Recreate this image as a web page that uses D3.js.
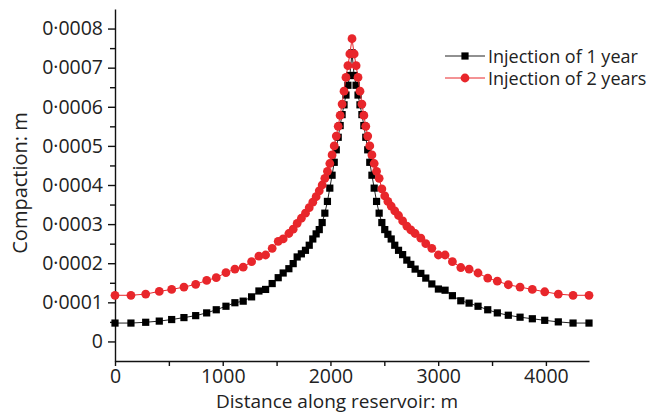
<!DOCTYPE html>
<html><head><meta charset="utf-8">
<script src="https://cdn.jsdelivr.net/npm/d3@7"></script>
<style>
body{margin:0;background:#fff;}
text{font-family:"Open Sans",sans-serif;fill:#222;}
</style></head>
<body><svg id="c" width="664" height="416"></svg>
<script>
const distance = [0,148,285,411,526,640,749,851,940,1030,1113,1190,1268,1336,1398,1459,1515,1561,1614,1654,1691,1730,1768,1803,1836,1867,1896,1923,1948,1972,1994,2015,2035,2054,2072,2090,2108,2126,2144,2162,2180,2200,
 2220,2238,2256,2274,2292,2310,2328,2346,2365,2385,2406,2428,2452,2477,2504,2533,2564,2597,2632,2670,2709,2746,2786,2839,2885,2941,3002,3064,3132,3210,3287,3370,3460,3549,3651,3760,3874,3989,4115,4252,4400];
// compaction values (x 1e-4 m)
const oneYear = [0.47,0.47,0.49,0.52,0.56,0.61,0.66,0.73,0.81,0.90,0.99,1.03,1.14,1.29,1.33,1.48,1.63,1.75,1.86,1.99,2.16,2.24,2.33,2.46,2.62,2.75,2.86,3.04,3.28,3.58,3.92,4.25,4.58,4.90,5.22,5.52,5.80,6.05,6.30,6.55,6.80,7.38,
 6.80,6.55,6.30,6.05,5.80,5.52,5.22,4.90,4.58,4.25,3.92,3.58,3.28,3.04,2.86,2.74,2.62,2.46,2.33,2.22,2.08,1.97,1.85,1.74,1.62,1.47,1.34,1.31,1.17,1.04,0.98,0.90,0.81,0.73,0.67,0.62,0.58,0.54,0.50,0.47,0.47];
const twoYears = [1.18,1.18,1.21,1.28,1.33,1.39,1.46,1.56,1.63,1.76,1.85,1.90,2.04,2.18,2.21,2.38,2.56,2.62,2.76,2.87,3.02,3.15,3.28,3.42,3.56,3.70,3.85,4.00,4.17,4.35,4.55,4.77,5.00,5.25,5.50,5.78,6.07,6.40,6.75,7.05,7.35,7.74,
 7.35,7.05,6.75,6.40,6.07,5.78,5.50,5.25,5.00,4.77,4.55,4.35,4.17,3.90,3.72,3.58,3.46,3.34,3.22,3.08,2.95,2.85,2.76,2.64,2.50,2.38,2.21,2.21,2.04,1.89,1.85,1.75,1.62,1.54,1.45,1.39,1.33,1.27,1.21,1.18,1.18];
const xTicks = [0,1000,2000,3000,4000];
const xMinor = [500,1500,2500,3500];
const yTicks = [0,0.0001,0.0002,0.0003,0.0004,0.0005,0.0006,0.0007,0.0008];
const yMinor = [0.00005,0.00015,0.00025,0.00035,0.00045,0.00055,0.00065,0.00075];
const seriesNames = ["Injection of 1 year","Injection of 2 years"];

const svg = d3.select("#c");
const x = d3.scaleLinear().domain([0,4400]).range([115,589]);
const y = d3.scaleLinear().domain([-0.00005,0.00085]).range([361,9]);
const fmt = d => d===0 ? "0" : d3.format(".4f")(d).replace(".", "\u00B7");

// axes
svg.append("g").attr("transform","translate(0,361)")
  .call(d3.axisBottom(x).tickValues(xTicks).tickSize(5).tickSizeOuter(0).tickPadding(3).tickFormat(d3.format("d")));
svg.append("g").attr("transform","translate(0,361)")
  .call(d3.axisBottom(x).tickValues(xMinor).tickSize(5).tickSizeOuter(0).tickFormat(""))
  .select(".domain").remove();
svg.append("g").attr("transform","translate(115,0)")
  .call(d3.axisLeft(y).tickValues(yTicks).tickSize(7).tickSizeOuter(0).tickPadding(5).tickFormat(fmt));
svg.append("g").attr("transform","translate(115,0)")
  .call(d3.axisLeft(y).tickValues(yMinor).tickSize(5).tickSizeOuter(0).tickFormat(""))
  .select(".domain").remove();
svg.selectAll(".domain, .tick line").attr("stroke","#111").attr("stroke-width",1.4);
svg.selectAll(".tick text").attr("font-size",19.5).attr("font-family","Open Sans, sans-serif").attr("fill","#222");

// titles
svg.append("text").attr("x",337).attr("y",408).attr("text-anchor","middle").attr("font-size",19).text("Distance along reservoir: m");
svg.append("text").attr("transform","translate(27,183) rotate(-90)").attr("text-anchor","middle").attr("font-size",20).text("Compaction: m");

const s1 = distance.map((d,i)=>({x:d,y:oneYear[i]*1e-4}));
const s2 = distance.map((d,i)=>({x:d,y:twoYears[i]*1e-4}));
const line = d3.line().x(d=>x(d.x)).y(d=>y(d.y));
const red = "#e8262b";

svg.append("path").datum(s1).attr("d",line).attr("fill","none").attr("stroke","#222").attr("stroke-width",1);
svg.append("g").selectAll("rect").data(s1).join("rect")
  .attr("x",d=>x(d.x)-3.6).attr("y",d=>y(d.y)-3.6).attr("width",7.2).attr("height",7.2).attr("fill","#000");
svg.append("path").datum(s2).attr("d",line).attr("fill","none").attr("stroke",red).attr("stroke-width",1);
svg.append("g").selectAll("circle").data(s2).join("circle")
  .attr("cx",d=>x(d.x)).attr("cy",d=>y(d.y)).attr("r",4.4).attr("fill",red);

// legend
const lg = svg.append("g");
[0,1].forEach(i=>{
  const yy = 56 + i*22;
  const col = i===0 ? "#222" : red;
  lg.append("line").attr("x1",445).attr("x2",485).attr("y1",yy).attr("y2",yy).attr("stroke",col).attr("stroke-width",1);
  if(i===0) lg.append("rect").attr("x",461.4).attr("y",yy-3.6).attr("width",7.2).attr("height",7.2).attr("fill","#000");
  else lg.append("circle").attr("cx",465).attr("cy",yy).attr("r",4.4).attr("fill",red);
  lg.append("text").attr("x",488).attr("y",yy+6.5).attr("font-size",18).text(seriesNames[i]);
});
</script></body></html>
